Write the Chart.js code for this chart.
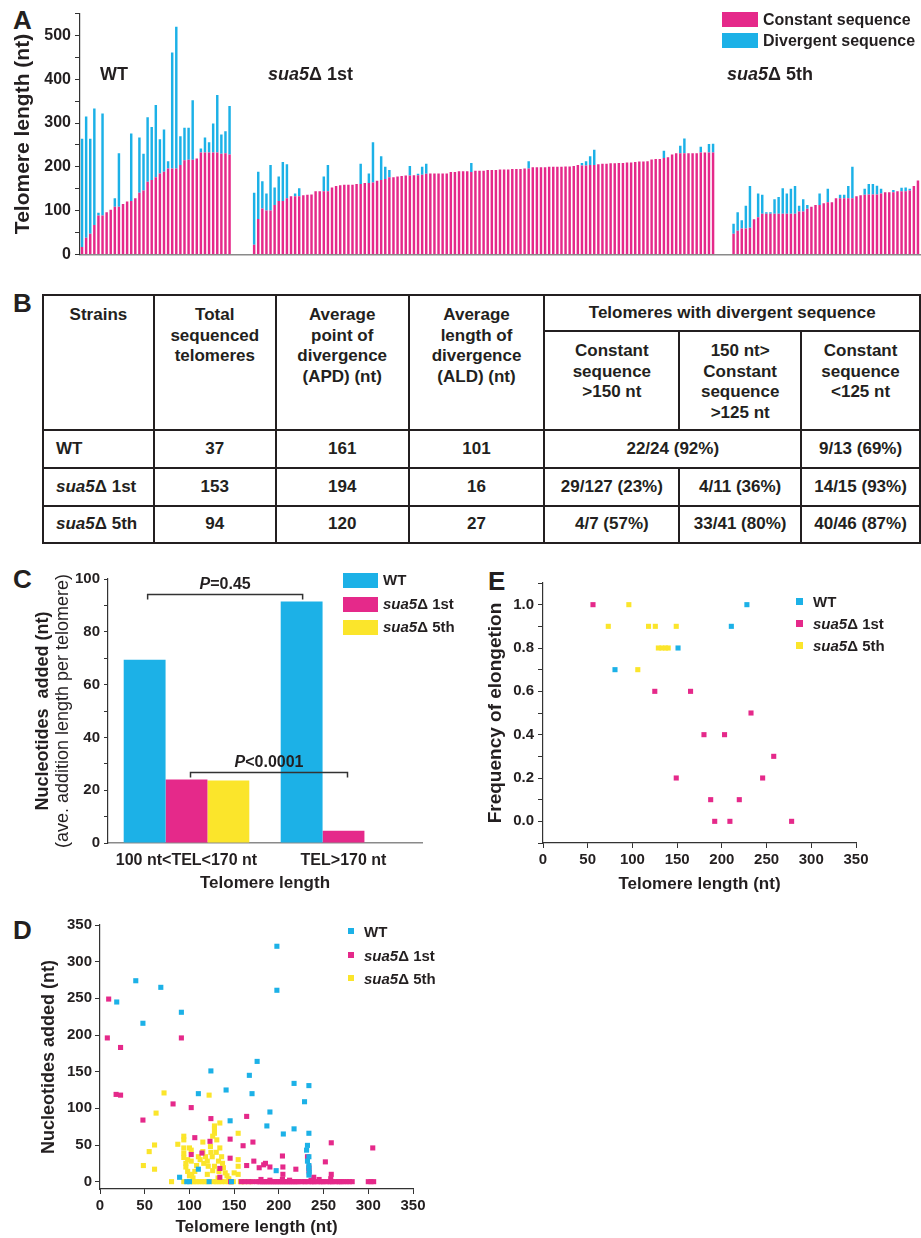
<!DOCTYPE html>
<html>
<head>
<meta charset="utf-8">
<title>Telomere sequencing</title>
<script src="https://cdn.jsdelivr.net/npm/chart.js"></script>
<style>
  body { margin: 0; background: #fff; font-family: "Liberation Sans", Arial, sans-serif; color: #231f20; }
  #page { position: relative; width: 921px; height: 1238px; overflow: hidden; }
  canvas { position: absolute; }
  .lbl { position: absolute; font-weight: bold; white-space: nowrap; line-height: 1; }
  .panel { font-size: 26px; }
  .sw { position: absolute; }
  table.tb { position: absolute; left: 42px; top: 294px; border-collapse: collapse; table-layout: fixed;
             font-weight: bold; font-size: 17px; line-height: 20.7px; }
  table.tb td { border: 2px solid #231f20; text-align: center; padding: 0; }
  table.tb td.hd { vertical-align: top; padding-top: 9px; }
  table.tb td.st { text-align: left; padding-left: 12px; }
</style>
</head>
<body>
<div id="page">
  <!-- panel letters -->
  <div class="lbl panel" style="left:13px;top:7px">A</div>
  <div class="lbl panel" style="left:13px;top:290px">B</div>
  <div class="lbl panel" style="left:13px;top:566px">C</div>
  <div class="lbl panel" style="left:13px;top:917px">D</div>
  <div class="lbl panel" style="left:488px;top:568px">E</div>

  <!-- A -->
  <canvas id="chartA" width="921" height="268" style="left:0;top:0"></canvas>
  <div class="lbl" style="left:100px;top:65px;font-size:18px">WT</div>
  <div class="lbl" style="left:268px;top:65px;font-size:18px"><i>sua5</i>Δ 1st</div>
  <div class="lbl" style="left:727px;top:65px;font-size:18px"><i>sua5</i>Δ 5th</div>
  <div class="sw" style="left:722px;top:12px;width:36px;height:15px;background:#e5298a"></div>
  <div class="lbl" style="left:763px;top:12px;font-size:16px">Constant sequence</div>
  <div class="sw" style="left:722px;top:33px;width:36px;height:15px;background:#1cb1e7"></div>
  <div class="lbl" style="left:763px;top:33px;font-size:16px">Divergent sequence</div>

  <!-- B -->
  <table class="tb">
    <colgroup>
      <col style="width:111px"><col style="width:122px"><col style="width:133px"><col style="width:136px">
      <col style="width:135px"><col style="width:122px"><col style="width:119px">
    </colgroup>
    <tr style="height:36px">
      <td class="hd" rowspan="2">Strains</td>
      <td class="hd" rowspan="2">Total<br>sequenced<br>telomeres</td>
      <td class="hd" rowspan="2">Average<br>point of<br>divergence<br>(APD) (nt)</td>
      <td class="hd" rowspan="2">Average<br>length of<br>divergence<br>(ALD) (nt)</td>
      <td colspan="3">Telomeres with divergent sequence</td>
    </tr>
    <tr style="height:99px">
      <td class="hd">Constant<br>sequence<br>&gt;150 nt</td>
      <td class="hd">150 nt&gt;<br>Constant<br>sequence<br>&gt;125 nt</td>
      <td class="hd">Constant<br>sequence<br>&lt;125 nt</td>
    </tr>
    <tr style="height:38px">
      <td class="st">WT</td><td>37</td><td>161</td><td>101</td>
      <td colspan="2">22/24 (92%)</td><td>9/13 (69%)</td>
    </tr>
    <tr style="height:38px">
      <td class="st"><i>sua5</i>Δ 1st</td><td>153</td><td>194</td><td>16</td>
      <td>29/127 (23%)</td><td>4/11 (36%)</td><td>14/15 (93%)</td>
    </tr>
    <tr style="height:37px">
      <td class="st"><i>sua5</i>Δ 5th</td><td>94</td><td>120</td><td>27</td>
      <td>4/7 (57%)</td><td>33/41 (80%)</td><td>40/46 (87%)</td>
    </tr>
  </table>

  <!-- C -->
  <canvas id="chartC" width="460" height="335" style="left:0;top:560px"></canvas>
  <div class="sw" style="left:343px;top:573px;width:35px;height:15px;background:#1cb1e7"></div>
  <div class="lbl" style="left:383px;top:572px;font-size:15px">WT</div>
  <div class="sw" style="left:343px;top:597px;width:35px;height:15px;background:#e5298a"></div>
  <div class="lbl" style="left:383px;top:596px;font-size:15px"><i>sua5</i>Δ 1st</div>
  <div class="sw" style="left:343px;top:620px;width:35px;height:15px;background:#fbe52b"></div>
  <div class="lbl" style="left:383px;top:619px;font-size:15px"><i>sua5</i>Δ 5th</div>

  <!-- E -->
  <canvas id="chartE" width="451" height="330" style="left:470px;top:570px"></canvas>
  <div class="sw" style="left:796px;top:598px;width:7px;height:7px;background:#1cb1e7"></div>
  <div class="lbl" style="left:813px;top:594px;font-size:15px">WT</div>
  <div class="sw" style="left:796px;top:620px;width:7px;height:7px;background:#e5298a"></div>
  <div class="lbl" style="left:813px;top:616px;font-size:15px"><i>sua5</i>Δ 1st</div>
  <div class="sw" style="left:796px;top:642px;width:7px;height:7px;background:#fbe52b"></div>
  <div class="lbl" style="left:813px;top:638px;font-size:15px"><i>sua5</i>Δ 5th</div>

  <!-- D -->
  <canvas id="chartD" width="460" height="338" style="left:0;top:900px"></canvas>
  <div class="sw" style="left:348px;top:928px;width:6px;height:6px;background:#1cb1e7"></div>
  <div class="lbl" style="left:364px;top:924px;font-size:15px">WT</div>
  <div class="sw" style="left:348px;top:952px;width:6px;height:6px;background:#e5298a"></div>
  <div class="lbl" style="left:364px;top:948px;font-size:15px"><i>sua5</i>Δ 1st</div>
  <div class="sw" style="left:348px;top:975px;width:6px;height:6px;background:#fbe52b"></div>
  <div class="lbl" style="left:364px;top:971px;font-size:15px"><i>sua5</i>Δ 5th</div>
</div>

<script>
  const BLUE = '#1cb1e7', PINK = '#e5298a', YELLOW = '#fbe52b', INK = '#231f20';
  Chart.defaults.font.family = '"Liberation Sans", Arial, sans-serif';
  Chart.defaults.color = INK;

  // ---- A: constant / divergent length of each sequenced telomere (nt)
  const wtConst = [17,38,47,67,89,89,96,102,109,109,115,121,122,128,141,146,166,170,176,185,189,196,196,196,204,215,216,216,219,233,233,233,233,233,230,231,228];
  const wtDiv   = [247,277,217,266,6,233,0,0,19,122,0,0,154,0,126,84,147,121,165,78,96,17,265,324,66,74,73,136,0,9,34,23,66,131,44,50,111];
  const st1Const = [22,81,105,100,100,113,122,122,128,133, 133,133,135,136,137,144,144,144,144,153,
                    156,158,159,159,159,161,161,163,163, 164,168,170,172,176,176,178,179,180,180,181,
                    181,182,184,185,185,185,185,185,188,188, 190,190,190,188,191,191,191,193,
                    193,193,194,194,194,195,195,195,196,196, 199,199,199,199,200,200,200,200,201,201,202,204,
                    203,203,204,204, 206,207,207,208,208,209,209,210,210,211,212,212,213,217,218,218,
                    220,222,228,231,231,231,231,231,231,233,233,233,233];
  const st1Div = [119,108,62,39,104,40,56,89,78,0, 6,18,0,0,0,0,0,34,60,0,
                  0,0,0,0,0,0,46,0,22, 92,0,54,28,17,0,0,0,0,22,0,
                  3,18,23,0,0,0,0,0,0,0, 0,0,0,21,0,0,0,0,
                  0,0,0,0,0,0,0,0,0,17, 0,0,0,0,0,0,0,0,0,0,0,0,
                  6,10,20,35, 0,0,0,0,0,0,0,0,0,0,0,0,0,0,0,0,
                  17,0,0,0,17,34,0,0,0,13,0,19,20];
  const st5Const = [47,54,59,59,61,80,85,93,93,93,93,93,93,93,93,93,98,98,104,109,113,113,117,119,119,
                    128,128,128,128,128,133,135,136,137,137,137,139,142,142,142,144,144,144,146,156,169];
  const st5Div   = [23,42,19,52,95,0,54,43,3,3,33,38,58,46,57,63,13,28,9,0,0,26,0,31,0,
                    0,8,8,28,72,0,0,14,24,24,20,11,0,0,5,0,8,9,4,0,0];
  const gapAfterWt = 5, gapAfter1st = 4;   // empty slots between the strain groups
  const aYTicks = [0,50,100,150,200,250,300,350,400,450,500,550];

  function withGaps(a, b, c) {
    return [...a, ...Array(gapAfterWt).fill(null), ...b, ...Array(gapAfter1st).fill(null), ...c];
  }
  const constAll = withGaps(wtConst, st1Const, st5Const);
  const divAll = withGaps(wtDiv, st1Div, st5Div);

  new Chart(document.getElementById('chartA'), {
    type: 'bar',
    data: {
      labels: constAll.map((_, i) => i + 1),
      datasets: [
        { label: 'Constant sequence', data: constAll, backgroundColor: PINK, barPercentage: 0.6, categoryPercentage: 1 },
        { label: 'Divergent sequence', data: divAll, backgroundColor: BLUE, barPercentage: 0.6, categoryPercentage: 1 }
      ]
    },
    options: {
      responsive: false, animation: false,
      layout: { padding: { top: 13, right: 1, left: 0, bottom: 0 } },
      plugins: { legend: { display: false }, tooltip: { enabled: false } },
      scales: {
        x: { stacked: true, ticks: { display: false }, grid: { display: false },
             border: { color: '#8a8a8a', width: 1.5 }, afterFit(s) { s.height = 8; } },
        y: { stacked: true, min: 0, max: 550,
             afterBuildTicks(s) { s.ticks = aYTicks.map(v => ({ value: v })); },
             ticks: { padding: 4, font: { size: 16, weight: 'bold' }, callback: v => (v % 100 === 0 ? v : '') },
             grid: { drawOnChartArea: false, tickLength: 5, color: '#333' },
             border: { color: '#333', width: 1.2 },
             title: { display: true, text: 'Telomere length (nt)', font: { size: 21, weight: 'bold' }, padding: { top: 11, bottom: 0 } },
             afterFit(s) { s.width = 80; } }
      }
    }
  });

  // ---- C: average addition length per telomere
  const cCategories = ['100 nt<TEL<170 nt', 'TEL>170 nt'];
  const cWt = [69.4, 91.5];
  const c1st = [24.1, 4.6];
  const c5th = [23.7, null];
  const cBracketLevels = [94.3, 26.9];
  const cPLabels = ['0.45', '0.0001'];

  const cExtras = {
    id: 'cExtras',
    afterDraw(chart) {
      const ctx = chart.ctx, y = chart.scales.y, a = chart.chartArea;
      const wt = chart.getDatasetMeta(0).data, s1 = chart.getDatasetMeta(1).data;
      ctx.save();
      ctx.strokeStyle = '#333'; ctx.lineWidth = 1.5;
      function bracket(x1, x2, level, sign, num) {
        const yy = Math.round(y.getPixelForValue(level)) + 0.5;
        ctx.beginPath();
        ctx.moveTo(x1, yy + 5); ctx.lineTo(x1, yy); ctx.lineTo(x2, yy); ctx.lineTo(x2, yy + 5);
        ctx.stroke();
        ctx.fillStyle = INK; ctx.textBaseline = 'middle';
        const fp = 'italic bold 16px "Liberation Sans", Arial, sans-serif';
        const fr = 'bold 16px "Liberation Sans", Arial, sans-serif';
        ctx.font = fp; const wp = ctx.measureText('P').width;
        ctx.font = fr; const rest = sign + num; const wr = ctx.measureText(rest).width;
        const x0 = (x1 + x2) / 2 - (wp + wr) / 2;
        ctx.textAlign = 'left';
        ctx.font = fp; ctx.fillText('P', x0, yy - 10);
        ctx.font = fr; ctx.fillText(rest, x0 + wp, yy - 10);
      }
      bracket(wt[0].x + 3, wt[1].x + 1, cBracketLevels[0], '=', cPLabels[0]);
      bracket(s1[0].x + 4, s1[1].x + 4, cBracketLevels[1], '<', cPLabels[1]);
      // two-line y title
      const cy = (a.top + a.bottom) / 2;
      ctx.textAlign = 'center'; ctx.textBaseline = 'middle'; ctx.fillStyle = INK;
      ctx.translate(43, cy); ctx.rotate(-Math.PI / 2);
      ctx.font = 'bold 18px "Liberation Sans", Arial, sans-serif';
      ctx.fillText('Nucleotides  added (nt)', 0, 0);
      ctx.font = '18px "Liberation Sans", Arial, sans-serif';
      ctx.fillText('(ave. addition length per telomere)', 0, 20);
      ctx.restore();
    }
  };

  new Chart(document.getElementById('chartC'), {
    type: 'bar',
    data: {
      labels: cCategories,
      datasets: [
        { label: 'WT', data: cWt, backgroundColor: BLUE },
        { label: 'sua5Δ 1st', data: c1st, backgroundColor: PINK },
        { label: 'sua5Δ 5th', data: c5th, backgroundColor: YELLOW }
      ]
    },
    options: {
      responsive: false, animation: false,
      datasets: { bar: { barPercentage: 1, categoryPercentage: 0.8 } },
      layout: { padding: { top: 19, right: 38, left: 0, bottom: 0 } },
      plugins: { legend: { display: false }, tooltip: { enabled: false } },
      scales: {
        x: { ticks: { padding: 0, font: { size: 16, weight: 'bold' } }, grid: { display: false },
             border: { color: '#8a8a8a', width: 1.5 },
             title: { display: true, text: 'Telomere length', font: { size: 17, weight: 'bold' }, padding: { top: 0, bottom: 1 } },
             afterFit(s) { s.height = 52; } },
        y: { min: 0, max: 100,
             ticks: { stepSize: 10, padding: 4, font: { size: 15, weight: 'bold' }, callback: v => (v % 20 === 0 ? v : '') },
             grid: { drawOnChartArea: false, tickLength: 4, color: '#333' },
             border: { color: '#333', width: 1.2 },
             afterFit(s) { s.width = 108; } }
      }
    },
    plugins: [cExtras]
  });

  // ---- scatter helpers
  const xTicks350 = [0,25,50,75,100,125,150,175,200,225,250,275,300,325,350];
  const pts = arr => arr.map(p => ({ x: p[0], y: p[1] }));
  function scatterSet(label, arr, color) {
    return { label, data: pts(arr), backgroundColor: color, pointStyle: 'rect', pointRadius: 3.6, pointBorderWidth: 0, borderWidth: 0 };
  }
  function axisX(titleText, titlePad, h) {
    return { type: 'linear', min: 0, max: 350,
      afterBuildTicks(s) { s.ticks = xTicks350.map(v => ({ value: v })); },
      ticks: { padding: 3, maxRotation: 0, font: { size: 15, weight: 'bold' }, callback: v => (v % 50 === 0 ? v : '') },
      grid: { drawOnChartArea: false, tickLength: 5, color: '#333' },
      border: { color: '#333', width: 1.2 },
      title: { display: true, text: titleText, font: { size: 17, weight: 'bold' }, padding: { top: 0, bottom: titlePad } },
      afterFit(s) { s.height = h; } };
  }

  // ---- E: frequency of elongation vs telomere length
  const eWt  = [[228,1.0],[210.6,0.9],[151,0.8],[80.5,0.7]];
  const e1st = [[55.9,1.0],[125,0.6],[165,0.6],[232.6,0.5],[180,0.4],[203,0.4],[258,0.3],[149,0.2],[245.6,0.2],
                [187.5,0.1],[219.5,0.1],[192,0.0],[209,0.0],[278,0.0]];
  const e5th = [[96,1.0],[73,0.9],[118,0.9],[125.6,0.9],[149,0.9],[129,0.8],[133,0.8],[137,0.8],[140,0.8],[106,0.7]];
  const eYTicks = [-0.1,0,0.1,0.2,0.3,0.4,0.5,0.6,0.7,0.8,0.9,1.0,1.1];

  new Chart(document.getElementById('chartE'), {
    type: 'scatter',
    data: { datasets: [scatterSet('WT', eWt, BLUE), scatterSet('sua5Δ 1st', e1st, PINK), scatterSet('sua5Δ 5th', e5th, YELLOW)] },
    options: {
      responsive: false, animation: false,
      layout: { padding: { top: 10, right: 65, left: 0, bottom: 0 } },
      plugins: { legend: { display: false }, tooltip: { enabled: false } },
      scales: {
        x: axisX('Telomere length (nt)', 5, 57),
        y: { min: -0.1, max: 1.1,
             afterBuildTicks(s) { s.ticks = eYTicks.map(v => ({ value: v })); },
             ticks: { padding: 4, font: { size: 15, weight: 'bold' },
                      callback: v => { const k = Math.round(v * 10); return (k >= 0 && k % 2 === 0) ? (k / 10).toFixed(1) : ''; } },
             grid: { drawOnChartArea: false, tickLength: 5, color: '#333' },
             border: { color: '#333', width: 1.2 },
             title: { display: true, text: 'Frequency of elongetion', font: { size: 19, weight: 'bold' }, padding: { top: 14, bottom: 0 } },
             afterFit(s) { s.width = 73; } }
      }
    }
  });

  // ---- D: nucleotides added vs telomere length, one point per telomere
  const dWt = [[197.8,321],[197.8,261],[40,274],[68,265],[18.7,245],[91,231],[48,216],[175.7,164],[124,151],[167,145],
               [217,134],[233.6,131],[141,125],[110,120],[170,120],[228.7,109],[190,95],[145.5,83],[186.6,76],[217,72],
               [205,65],[233.6,66],[232,49.5],[231,43],[233.6,34],[233.6,22],[233.6,18],[233.6,9],[110,17],[89,6],
               [197,15],[97,0],[122,0],[100,0],[232,28],[234,13],[147,0]];
  const d1st = [[9.7,249],[8.2,196],[23,183],[91,196],[18,119],[23,118],[81.7,106],[102,101],[48,84],[124,86],
                [164,89],[258.6,53],[305,46],[106,60],[123,55],[145.5,58],[171,54],[160,49],[102,37],[145.5,32],
                [204,35],[232,34],[252,27],[172,28],[164,22],[178,19],[183,23],[185,25],[190,20],[204.5,20],
                [219,17],[233.6,20],[233.6,15],[134,18],[134,6],[114,39],[204.5,10],[258.6,10],[239,6],[245,3],
                [180,3],[204,3],[258,4],[236,2],[212,2],[190,2],
                [146,0],[158,0],[162,0],[166,0],[170,0],[175,0],[178,0],[180,0],[182,0],[184,0],
                [186,0],[188,0],[190,0],[192,0],[194,0],[196,0],[198,0],[200,0],[202,0],[204,0],
                [206,0],[208,0],[210,0],[212,0],[214,0],[216,0],[218,0],[220,0],[222,0],[225,0],
                [228,0],[230,0],[233,0],[236,0],[238,0],[240,0],[243,0],[246,0],[248,0],[250,0],
                [253,0],[256,0],[258,0],[260,0],[263,0],[266,0],[268,0],[270,0],[273,0],[276,0],
                [279,0],[282,0],[300,0],[303,0],[306,0]];
  const d5th = [[71.6,121],[122,118],[62.7,93.5],[128,76],[134,80],[128,72],[154.5,66],[61,50],[55,41],[87,51],
                [93.7,62],[93.7,57],[93.7,46],[93.7,39],[93.7,33],[48.5,22],[61,17],[102,43],[102,28],[98,30],
                [115,54],[115,41],[118,34],[121,21],[123.5,48],[125.5,34],[128,21],[130.6,57],[132.5,28],[134,46],
                [136,34],[138,19],[140,12],[154.5,30],[154.5,21],[154.5,10],[98,14],[102.6,10],[106,14],[116,25],
                [110,34],[96,25],[96,20],[100,8],[104,5],[112,30],[120,28],[124,40],[126,62],[128,66],
                [130,40],[133,14],[137,25],[142,8],[144,4],[150,12],[100,46],[120,10],[108,22],[126,15],
                [132,5],[80,0],[93.7,0],[102,0],[105,0],[108,0],[111,0],[114,0],[117,0],[120,0],
                [127,0],[130,0],[133,0],[136,0],[140,0],[144,0],[147,0],[149,0],[157,0],[161,0],[168,0]];
  const dYTicks = [0,25,50,75,100,125,150,175,200,225,250,275,300,325,350];

  new Chart(document.getElementById('chartD'), {
    type: 'scatter',
    data: { datasets: [scatterSet('WT', dWt, BLUE), scatterSet('sua5Δ 1st', d1st, PINK), scatterSet('sua5Δ 5th', d5th, YELLOW)] },
    options: {
      responsive: false, animation: false,
      layout: { padding: { top: 25, right: 47, left: 0, bottom: 0 } },
      plugins: { legend: { display: false }, tooltip: { enabled: false } },
      scales: {
        x: axisX('Telomere length (nt)', 0, 49),
        y: { min: -10, max: 350,
             afterBuildTicks(s) { s.ticks = dYTicks.map(v => ({ value: v })); },
             ticks: { padding: 3, font: { size: 15, weight: 'bold' }, callback: v => (v % 50 === 0 ? v : '') },
             grid: { drawOnChartArea: false, tickLength: 5, color: '#333' },
             border: { color: '#333', width: 1.2 },
             title: { display: true, text: 'Nucleotides added (nt)', font: { size: 18, weight: 'bold' }, padding: { top: 38, bottom: 0 } },
             afterFit(s) { s.width = 100; } }
      }
    }
  });
</script>
</body>
</html>
